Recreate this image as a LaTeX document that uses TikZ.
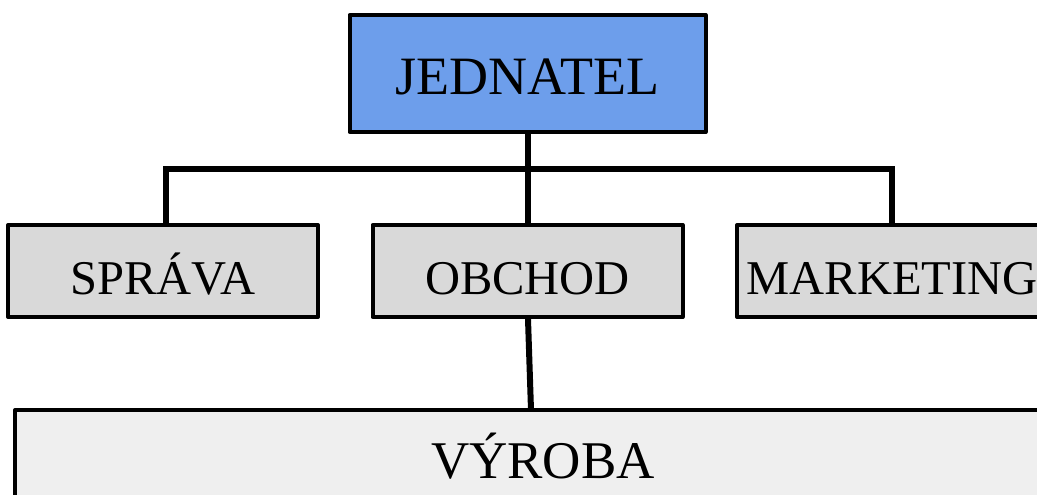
\documentclass[tikz,border=0pt]{standalone}
\usepackage{fontspec}
\setmainfont{Liberation Serif}
\definecolor{boss}{HTML}{6D9EEB}
\definecolor{dept}{HTML}{D9D9D9}
\definecolor{plant}{HTML}{EFEFEF}

\begin{document}
\begin{tikzpicture}[x=1pt, y=-1pt, line width=6pt,
    box/.style={draw, line width=4pt, line join=round, inner sep=0pt, text depth=0pt}]
      \useasboundingbox (0,0) rectangle (1037,495);

      \node[box, fill=boss, minimum width=356pt, minimum height=117pt, text height=43pt,
        font=\fontsize{54}{60}\selectfont] (0) at (527.5,73.5) {JEDNATEL};
      \foreach \t/\x [count=\i] in {SPRÁVA/163, OBCHOD/527.5, MARKETING/892} {
        \node[box, fill=dept, minimum width=310pt, minimum height=92pt, text height=46pt,
          font=\fontsize{48.5}{54}\selectfont] (\i) at (\x,271) {\t};
      }
      \node[box, fill=plant, minimum width=1056pt, minimum height=90pt, text height=46pt,
        font=\fontsize{53}{60}\selectfont] (4) at (543,455) {VÝROBA};

      \coordinate (bus) at (528,169);
      \coordinate (4in) at (531,410);
      \draw (0.south -| bus) -- (bus);
      \draw ([xshift=3pt]1.north) |- (bus) -| (3.north);
      \draw (bus) -- (2.north -| bus);
      \draw (2.south -| bus) -- (4in);
    \end{tikzpicture}
\end{document}
